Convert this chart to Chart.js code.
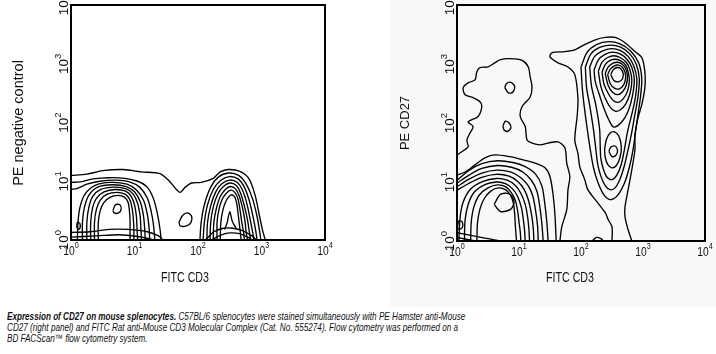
<!DOCTYPE html>
<html>
<head>
<meta charset="utf-8">
<script src="https://cdn.jsdelivr.net/npm/chart.js@4.4.1/dist/chart.umd.min.js"></script>
<style>
  html, body { margin: 0; padding: 0; background: #fff; }
  body { width: 716px; height: 354px; position: relative; overflow: hidden; font-family: "Liberation Sans", Arial, sans-serif; }
  #grayPanel { position: absolute; left: 390px; top: 0; width: 326px; height: 307px; background: #f8f8f8; }
  #left { position: absolute; left: 0; top: 0; }
  #right { position: absolute; left: 380px; top: 0; }
  .caption { position: absolute; left: 7px; top: 311px; width: 700px; font-size: 11px; line-height: 10.8px; font-style: italic; color: #111; transform: scaleX(0.74); transform-origin: 0 0; white-space: nowrap; }
  .caption b { font-weight: bold; }
</style>
</head>
<body>
<div id="grayPanel"></div>
<canvas id="left" width="380" height="300"></canvas>
<canvas id="right" width="336" height="300"></canvas>
<div class="caption">
  <div><b>Expression of CD27 on mouse splenocytes.</b> C57BL/6 splenocytes were stained simultaneously with PE Hamster anti-Mouse</div>
  <div>CD27 (right panel) and FITC Rat anti-Mouse CD3 Molecular Complex (Cat. No. 555274). Flow cytometry was performed on a</div>
  <div>BD FACScan™ flow cytometry system.</div>
</div>
<script>
// axes are in decades (log10 of fluorescence), ticks drawn as 10^n
const DECADES = [0, 1, 2, 3, 4];
const X_TITLE = "FITC CD3";
const LEFT_Y_TITLE = "PE negative control";
const RIGHT_Y_TITLE = "PE CD27";

// ---- left panel: PE negative control vs FITC CD3 ----
const leftOuter = [[0,1.10],[0.25,1.12],[0.5,1.18],[0.82,1.20],[1.1,1.16],[1.4,1.13],[1.55,1.0],[1.66,0.86],[1.72,0.81],[1.8,0.9],[1.9,0.97],[2.05,0.98],[2.24,1.05],[2.35,1.16],[2.48,1.20],[2.66,1.17],[2.8,1.05],[2.9,0.76],[2.97,0.4],[3.02,0.15],[3.06,0]];
const leftA1 = [[0,0.98],[0.15,0.99],[0.35,1.04],[0.6,1.06],[0.85,1.05],[1.05,1.0],[1.2,0.9],[1.3,0.7],[1.36,0.45],[1.4,0.2],[1.42,0]];
const leftA2 = [[0,0.86],[0.1,0.88],[0.25,0.95],[0.45,1.0],[0.7,1.02],[0.92,0.99],[1.08,0.9],[1.2,0.72],[1.26,0.5],[1.3,0.25],[1.32,0]];
const leftA3 = [[0.1,0],[0.11,0.3],[0.14,0.55],[0.22,0.78],[0.38,0.93],[0.62,0.98],[0.88,0.95],[1.03,0.85],[1.14,0.68],[1.2,0.45],[1.23,0.2],[1.24,0]];
const leftA4 = [[0.18,0],[0.18,0.3],[0.21,0.55],[0.28,0.76],[0.42,0.9],[0.65,0.94],[0.87,0.91],[1.0,0.82],[1.09,0.65],[1.14,0.42],[1.16,0.2],[1.17,0]];
const leftA5 = [[0.25,0],[0.25,0.3],[0.28,0.55],[0.34,0.74],[0.47,0.86],[0.68,0.9],[0.87,0.87],[0.98,0.78],[1.05,0.62],[1.09,0.4],[1.1,0.2],[1.11,0]];
const leftA6 = [[0.31,0],[0.31,0.3],[0.34,0.55],[0.4,0.71],[0.52,0.82],[0.7,0.86],[0.86,0.83],[0.95,0.74],[1.0,0.6],[1.03,0.4],[1.04,0.2],[1.05,0]];
const leftA7 = [[0.37,0],[0.37,0.3],[0.4,0.52],[0.46,0.68],[0.57,0.78],[0.72,0.81],[0.85,0.78],[0.92,0.7],[0.96,0.56],[0.98,0.38],[0.99,0.2],[0.99,0]];
const leftA8 = [[0.43,0],[0.43,0.3],[0.46,0.5],[0.52,0.64],[0.62,0.73],[0.74,0.76],[0.84,0.73],[0.9,0.64],[0.92,0.5],[0.93,0.32],[0.93,0.15],[0.93,0]];
const leftACore = [[0.66,0.5],[0.7,0.6],[0.77,0.6],[0.79,0.52],[0.75,0.46],[0.68,0.46],[0.66,0.5]];
const leftEdgeLoop = [[0.09,0.22],[0.1,0.3],[0.14,0.28],[0.14,0.2],[0.11,0.18],[0.09,0.22]];
const leftMidLoop = [[1.7,0.3],[1.76,0.42],[1.84,0.46],[1.9,0.4],[1.89,0.3],[1.82,0.24],[1.72,0.24],[1.7,0.3]];
const leftBase1 = [[0,0.13],[0.3,0.14],[0.6,0.18],[0.9,0.18],[1.2,0.14],[1.38,0.07],[1.45,0]];
const leftBase2 = [[0,0.05],[0.4,0.07],[0.75,0.09],[1.05,0.06],[1.25,0.02],[1.3,0]];
const leftB1 = [[2.03,0],[2.05,0.3],[2.1,0.6],[2.2,0.9],[2.32,1.07],[2.48,1.14],[2.64,1.1],[2.76,0.95],[2.86,0.7],[2.93,0.4],[2.97,0.15],[2.99,0]];
const leftB2 = [[2.08,0],[2.1,0.3],[2.15,0.6],[2.24,0.86],[2.35,1.01],[2.49,1.08],[2.63,1.04],[2.73,0.9],[2.81,0.66],[2.87,0.38],[2.91,0.15],[2.93,0]];
const leftB3 = [[2.14,0],[2.15,0.3],[2.2,0.58],[2.28,0.82],[2.38,0.96],[2.5,1.02],[2.62,0.98],[2.7,0.85],[2.77,0.62],[2.82,0.36],[2.86,0.14],[2.88,0]];
const leftB4 = [[2.19,0],[2.2,0.3],[2.24,0.56],[2.31,0.78],[2.4,0.91],[2.5,0.97],[2.6,0.93],[2.67,0.8],[2.73,0.58],[2.78,0.34],[2.81,0.13],[2.83,0]];
const leftB5 = [[2.24,0],[2.25,0.3],[2.29,0.54],[2.35,0.74],[2.43,0.86],[2.51,0.91],[2.59,0.87],[2.65,0.75],[2.7,0.55],[2.74,0.32],[2.76,0.12],[2.78,0]];
const leftB6 = [[2.3,0],[2.3,0.3],[2.33,0.52],[2.38,0.69],[2.45,0.8],[2.52,0.85],[2.58,0.81],[2.63,0.7],[2.66,0.52],[2.69,0.3],[2.72,0.12],[2.73,0]];
const leftB7 = [[2.35,0],[2.36,0.3],[2.39,0.5],[2.43,0.64],[2.48,0.73],[2.53,0.77],[2.58,0.73],[2.61,0.62],[2.63,0.46],[2.65,0.28],[2.67,0.1],[2.68,0]];
const leftBSpike = [[2.42,0.18],[2.46,0.3],[2.5,0.48],[2.54,0.32],[2.6,0.2]];
const leftBBase1 = [[2.12,0],[2.25,0.14],[2.4,0.2],[2.55,0.2],[2.7,0.16],[2.85,0.07],[2.92,0]];
const leftBBase2 = [[2.22,0],[2.35,0.08],[2.5,0.12],[2.65,0.11],[2.8,0.04],[2.85,0]];

// ---- right panel: PE CD27 vs FITC CD3 ----
const rightOuter = [[0,1.46],[0.13,1.55],[0.18,1.6],[0.16,1.71],[0.21,1.83],[0.26,1.94],[0.18,2.02],[0.34,2.11],[0.4,2.28],[0.37,2.36],[0.26,2.43],[0.13,2.48],[0.1,2.6],[0.18,2.68],[0.29,2.73],[0.32,2.87],[0.37,2.94],[0.5,2.95],[0.61,3.02],[0.69,3.07],[0.85,3.09],[1.05,3.06],[1.15,2.95],[1.18,2.78],[1.21,2.61],[1.18,2.44],[1.05,2.28],[1.02,2.11],[1.1,1.94],[1.13,1.71],[1.21,1.66],[1.34,1.63],[1.47,1.66],[1.63,1.68],[1.74,1.58],[1.77,1.32],[1.82,1.09],[1.79,0.87],[1.77,0.53],[1.69,0.24],[1.66,0]];
const rightLoopHigh = [[0.77,2.6],[0.8,2.67],[0.87,2.69],[0.93,2.62],[0.9,2.52],[0.83,2.51],[0.77,2.6]];
const rightLoopMid = [[0.74,1.95],[0.78,2.03],[0.84,2.0],[0.87,1.92],[0.82,1.86],[0.76,1.88],[0.74,1.95]];
const rightC1 = [[0,1.12],[0.13,1.17],[0.29,1.29],[0.45,1.41],[0.61,1.46],[0.85,1.43],[1.05,1.38],[1.26,1.32],[1.42,1.24],[1.5,1.09],[1.55,0.78],[1.58,0.44],[1.6,0]];
const rightC2 = [[0,1.03],[0.2,1.2],[0.4,1.31],[0.65,1.36],[0.9,1.33],[1.1,1.26],[1.27,1.13],[1.37,0.93],[1.42,0.6],[1.45,0.3],[1.47,0]];
const rightC3 = [[0,0.98],[0.2,1.12],[0.4,1.23],[0.65,1.28],[0.88,1.25],[1.06,1.17],[1.2,1.03],[1.29,0.84],[1.34,0.55],[1.37,0.28],[1.39,0]];
const rightC4 = [[0,0.92],[0.18,1.04],[0.4,1.15],[0.64,1.2],[0.86,1.17],[1.02,1.08],[1.14,0.95],[1.22,0.77],[1.27,0.5],[1.3,0.25],[1.31,0]];
const rightC5 = [[0,0.86],[0.18,0.97],[0.4,1.08],[0.63,1.13],[0.84,1.1],[0.98,1.01],[1.08,0.88],[1.15,0.7],[1.2,0.46],[1.23,0.22],[1.24,0]];
const rightC6 = [[0.03,0],[0.05,0.4],[0.1,0.66],[0.22,0.88],[0.42,1.01],[0.63,1.06],[0.81,1.03],[0.94,0.94],[1.03,0.81],[1.1,0.62],[1.14,0.4],[1.16,0.2],[1.17,0]];
const rightC7 = [[0.12,0],[0.13,0.35],[0.18,0.62],[0.28,0.83],[0.46,0.96],[0.64,1.0],[0.79,0.97],[0.9,0.88],[0.98,0.75],[1.04,0.56],[1.07,0.36],[1.09,0.18],[1.1,0]];
const rightC8 = [[0.22,0],[0.23,0.32],[0.27,0.57],[0.36,0.78],[0.5,0.9],[0.65,0.95],[0.78,0.92],[0.87,0.83],[0.94,0.69],[0.98,0.5],[1.0,0.32],[1.02,0.16],[1.03,0]];
const rightC9 = [[0.32,0],[0.33,0.3],[0.37,0.54],[0.44,0.72],[0.55,0.85],[0.67,0.9],[0.78,0.87],[0.86,0.78],[0.91,0.64],[0.93,0.46],[0.94,0.28],[0.95,0.13],[0.96,0]];
const rightCCore = [[0.6,0.62],[0.7,0.79],[0.84,0.8],[0.92,0.68],[0.87,0.54],[0.7,0.5],[0.6,0.62]];
const rightEdgeLoop = [[0.01,0.27],[0.03,0.34],[0.08,0.33],[0.09,0.24],[0.05,0.2],[0.01,0.22],[0.01,0.27]];
const rightBase1 = [[0,0.14],[0.2,0.1],[0.45,0.05],[0.6,0.02],[0.7,0]];
const rightBase2 = [[0,0.06],[0.15,0.03],[0.3,0]];
const rightStemBump = [[2.18,0],[2.25,0.06],[2.32,0.04],[2.36,0]];
const rightA1 = [[2.5,0],[2.5,0.24],[2.44,0.36],[2.39,0.48],[2.23,0.7],[2.11,0.87],[2.06,1.04],[1.98,1.26],[1.95,1.49],[1.9,1.71],[1.94,2.14],[1.95,2.43],[1.9,2.82],[1.79,2.95],[1.63,3.02],[1.5,3.12],[1.53,3.19],[1.74,3.21],[1.9,3.24],[2.06,3.33],[2.23,3.41],[2.39,3.45],[2.55,3.45],[2.71,3.36],[2.87,3.21],[2.98,3.11],[3.03,2.87],[3.03,2.6],[2.98,2.31],[2.92,2.09],[2.87,1.8],[2.87,1.55],[2.82,1.21],[2.76,0.87],[2.71,0.58],[2.71,0.41],[2.76,0.19],[2.82,0]];
const rightA2 = [[2.0,2.95],[2.1,3.2],[2.25,3.33],[2.45,3.38],[2.63,3.34],[2.8,3.22],[2.93,3.02],[2.98,2.75],[2.96,2.45],[2.92,2.15],[2.88,1.85],[2.84,1.55],[2.78,1.25],[2.7,0.98],[2.58,0.76],[2.47,0.7],[2.37,0.78],[2.27,1.0],[2.2,1.25],[2.15,1.55],[2.1,1.9],[2.05,2.3],[2.02,2.6],[2.0,2.95]];
const rightA3 = [[2.07,2.95],[2.16,3.17],[2.3,3.28],[2.47,3.32],[2.63,3.29],[2.78,3.18],[2.89,3.0],[2.94,2.75],[2.92,2.45],[2.87,2.15],[2.82,1.85],[2.76,1.55],[2.7,1.28],[2.63,1.05],[2.55,0.9],[2.47,0.87],[2.39,0.94],[2.32,1.1],[2.27,1.3],[2.24,1.55],[2.2,1.9],[2.14,2.3],[2.09,2.6],[2.07,2.95]];
const rightA4 = [[2.14,2.95],[2.22,3.13],[2.34,3.22],[2.49,3.26],[2.63,3.23],[2.76,3.13],[2.85,2.97],[2.9,2.75],[2.88,2.45],[2.82,2.15],[2.75,1.85],[2.7,1.55],[2.65,1.3],[2.58,1.12],[2.5,1.04],[2.42,1.08],[2.36,1.22],[2.32,1.4],[2.31,1.6],[2.3,1.9],[2.24,2.3],[2.17,2.62],[2.14,2.95]];
const rightE1 = [[2.38,1.55],[2.41,1.72],[2.47,1.83],[2.54,1.85],[2.61,1.78],[2.65,1.6],[2.63,1.42],[2.57,1.28],[2.5,1.24],[2.43,1.3],[2.39,1.42],[2.38,1.55]];
const rightECore = [[2.45,1.52],[2.48,1.59],[2.55,1.61],[2.59,1.53],[2.56,1.45],[2.5,1.43],[2.45,1.52]];
const rightD0 = [[2.21,2.9],[2.28,3.07],[2.38,3.16],[2.5,3.2],[2.63,3.17],[2.74,3.08],[2.82,2.94],[2.86,2.74],[2.83,2.46],[2.76,2.2],[2.66,2.02],[2.53,1.93],[2.45,2.05],[2.37,2.25],[2.29,2.5],[2.23,2.7],[2.21,2.9]];
const rightD1 = [[2.28,2.88],[2.34,3.03],[2.43,3.11],[2.53,3.14],[2.63,3.11],[2.73,3.03],[2.79,2.9],[2.82,2.72],[2.79,2.5],[2.72,2.32],[2.63,2.22],[2.55,2.2],[2.47,2.27],[2.39,2.42],[2.32,2.62],[2.28,2.88]];
const rightD2 = [[2.34,2.86],[2.39,2.99],[2.47,3.06],[2.56,3.08],[2.65,3.05],[2.72,2.98],[2.76,2.87],[2.78,2.72],[2.75,2.54],[2.68,2.41],[2.6,2.35],[2.52,2.38],[2.44,2.5],[2.37,2.66],[2.34,2.86]];
const rightD3 = [[2.39,2.84],[2.44,2.95],[2.51,3.01],[2.59,3.03],[2.66,3.0],[2.72,2.92],[2.75,2.8],[2.73,2.64],[2.67,2.53],[2.59,2.48],[2.51,2.52],[2.44,2.63],[2.39,2.84]];
const rightD4 = [[2.43,2.82],[2.47,2.91],[2.54,2.97],[2.61,2.98],[2.67,2.94],[2.71,2.86],[2.72,2.76],[2.69,2.65],[2.62,2.58],[2.54,2.59],[2.47,2.67],[2.43,2.82]];
const rightDCore = [[2.48,2.82],[2.52,2.9],[2.58,2.94],[2.64,2.92],[2.68,2.84],[2.67,2.75],[2.61,2.7],[2.53,2.72],[2.48,2.82]];

const leftContours = [leftOuter, leftA1, leftA2, leftA3, leftA4, leftA5, leftA6, leftA7, leftA8, leftACore, leftEdgeLoop, leftMidLoop, leftBase1, leftBase2, leftB1, leftB2, leftB3, leftB4, leftB5, leftB6, leftB7, leftBSpike, leftBBase1, leftBBase2];
const rightContours = [rightOuter, rightLoopHigh, rightLoopMid, rightC1, rightC2, rightC3, rightC4, rightC5, rightC6, rightC7, rightC8, rightC9, rightCCore, rightEdgeLoop, rightBase1, rightBase2, rightStemBump, rightA1, rightA2, rightA3, rightA4, rightE1, rightECore, rightD0, rightD1, rightD2, rightD3, rightD4, rightDCore];

const FONT = '"Liberation Sans", Arial, sans-serif';
const SX = 0.76; // horizontal text in the figure is squeezed

function powerLabel(ctx, n) {
  ctx.font = `13.5px ${FONT}`;
  const wBase = ctx.measureText("10").width;
  ctx.font = `9.5px ${FONT}`;
  const wExp = ctx.measureText(String(n)).width;
  const start = -(wBase + wExp) / 2;
  ctx.textAlign = "left";
  ctx.textBaseline = "alphabetic";
  ctx.font = `13.5px ${FONT}`;
  ctx.fillText("10", start, 0);
  ctx.font = `9.5px ${FONT}`;
  ctx.fillText(String(n), start + wBase, -7.5);
}

function axesPlugin(cfg) {
  return {
    id: "flowAxes",
    afterDraw(chart) {
      const { ctx, chartArea: a, scales } = chart;
      ctx.save();
      ctx.strokeStyle = "#000";
      ctx.lineWidth = 2;
      ctx.strokeRect(a.left, a.top, a.right - a.left, a.bottom - a.top);
      ctx.fillStyle = "#111";
      DECADES.forEach((d) => {
        const px = scales.x.getPixelForValue(d);
        ctx.save();
        ctx.translate(px, a.bottom + 15);
        ctx.scale(SX, 1);
        powerLabel(ctx, d);
        ctx.restore();

        const py = scales.y.getPixelForValue(d);
        ctx.save();
        ctx.translate(a.left - 3, py);
        ctx.rotate(-Math.PI / 2);
        powerLabel(ctx, d);
        ctx.restore();
      });
      ctx.font = `14px ${FONT}`;
      ctx.textAlign = "center";
      ctx.textBaseline = "middle";
      ctx.save();
      ctx.translate(cfg.xTitleX, 278);
      ctx.scale(SX, 1);
      ctx.fillText(X_TITLE, 0, 0);
      ctx.restore();
      ctx.save();
      ctx.translate(cfg.yTitleX, 123);
      ctx.rotate(-Math.PI / 2);
      ctx.font = `${cfg.yTitleSize}px ${FONT}`;
      ctx.fillText(cfg.yTitle, 0, 0);
      ctx.restore();
      ctx.restore();
    },
  };
}

function makePanel(canvasId, contours, padding, cfg) {
  new Chart(document.getElementById(canvasId), {
    type: "scatter",
    data: {
      datasets: contours.map((pts) => ({
        data: pts.map(([x, y]) => ({ x, y })),
        showLine: true,
        borderColor: "#000",
        borderWidth: 1.35,
        pointRadius: 0,
        tension: 0.3,
        fill: false,
      })),
    },
    options: {
      responsive: false,
      animation: false,
      devicePixelRatio: 1,
      layout: { padding },
      scales: {
        x: { type: "linear", min: 0, max: 4, display: false },
        y: { type: "linear", min: 0, max: 4, display: false },
      },
      plugins: { legend: { display: false }, tooltip: { enabled: false } },
    },
    plugins: [axesPlugin(cfg)],
  });
}

makePanel("left", leftContours, { left: 71, top: 5, right: 55, bottom: 60 },
  { xTitleX: 185, yTitleX: 19, yTitle: LEFT_Y_TITLE, yTitleSize: 14.5 });
makePanel("right", rightContours, { left: 77, top: 5, right: 11, bottom: 59 },
  { xTitleX: 190, yTitleX: 25, yTitle: RIGHT_Y_TITLE, yTitleSize: 13 });
</script>
</body>
</html>
